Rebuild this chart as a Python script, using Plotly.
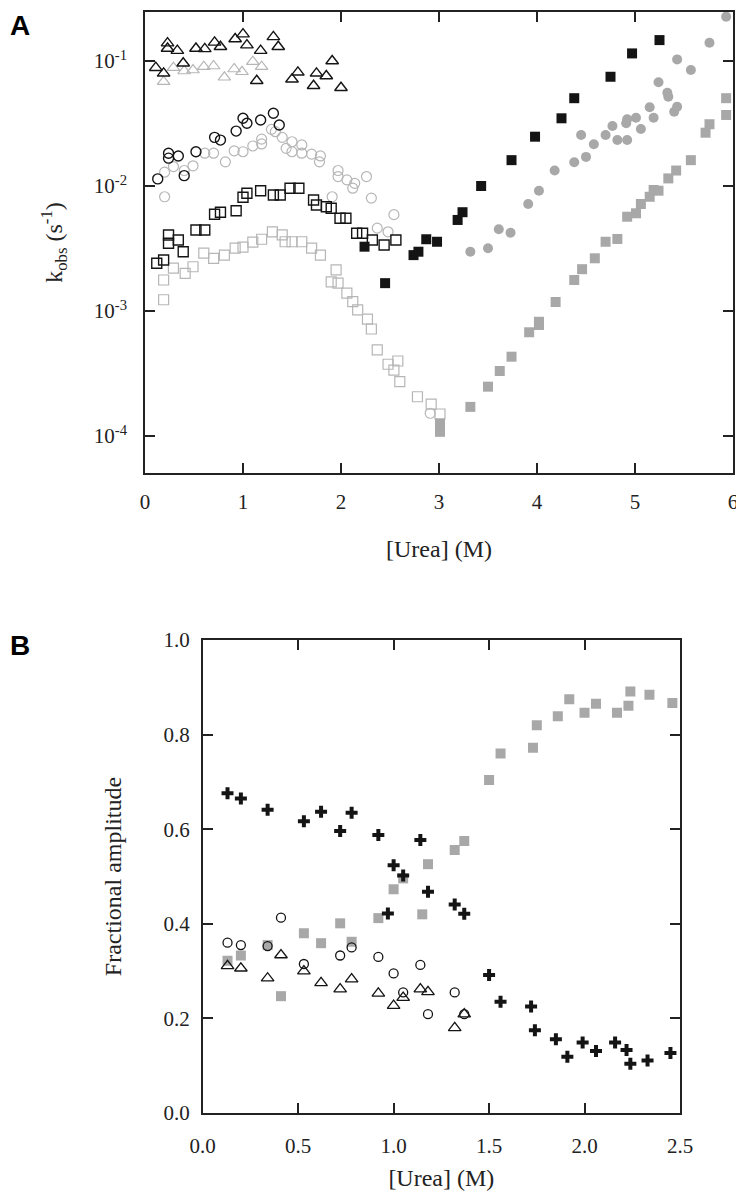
import plotly.graph_objects as go

# ---------------- Panel A data: k_obs vs [Urea] ----------------
a_tri_dark_x = [0.11, 0.19, 0.23, 0.23, 0.33, 0.39, 0.52, 0.61, 0.71, 0.77, 0.92, 1.00, 1.04, 1.14, 1.18, 1.31, 1.36, 1.50, 1.56, 1.72, 1.75, 1.85, 1.91, 2.00]
a_tri_dark_y = [0.0884, 0.0797, 0.139, 0.126, 0.121, 0.0959, 0.126, 0.125, 0.141, 0.130, 0.150, 0.164, 0.134, 0.0695, 0.121, 0.156, 0.130, 0.0714, 0.0812, 0.0634, 0.0797, 0.0759, 0.100, 0.0611]

a_tri_light_x = [0.19, 0.29, 0.40, 0.49, 0.60, 0.70, 0.81, 0.91, 0.99, 1.10, 1.19]
a_tri_light_y = [0.0683, 0.0884, 0.0832, 0.0847, 0.090, 0.0912, 0.0741, 0.0863, 0.082, 0.0987, 0.090]

a_circ_dark_x = [0.13, 0.24, 0.24, 0.34, 0.40, 0.52, 0.71, 0.77, 0.93, 1.00, 1.04, 1.18, 1.31, 1.37]
a_circ_dark_y = [0.0114, 0.0183, 0.0167, 0.0174, 0.0121, 0.0188, 0.0245, 0.0233, 0.0275, 0.0348, 0.0318, 0.0337, 0.0382, 0.0308]

a_circ_light_x = [0.20, 0.20, 0.29, 0.40, 0.49, 0.61, 0.70, 0.82, 0.91, 1.00, 1.10, 1.19, 1.19, 1.29, 1.33, 1.40, 1.44, 1.50, 1.50, 1.60, 1.60, 1.70, 1.79, 1.78, 1.91, 1.97, 1.97, 2.06, 2.14, 2.12, 2.26, 2.31, 2.37, 2.48, 2.54, 2.91]
a_circ_light_y = [0.0082, 0.0129, 0.0143, 0.0133, 0.0145, 0.0183, 0.0183, 0.0156, 0.0191, 0.0188, 0.0209, 0.0217, 0.0237, 0.0284, 0.0272, 0.0245, 0.0200, 0.0226, 0.0188, 0.0213, 0.0183, 0.0180, 0.0174, 0.0156, 0.0082, 0.0133, 0.0119, 0.0112, 0.0105, 0.0096, 0.0119, 0.0080, 0.0046, 0.0043, 0.0059, 0.000152]

a_sq_dark_x = [0.12, 0.19, 0.24, 0.24, 0.34, 0.39, 0.52, 0.61, 0.71, 0.77, 0.93, 1.00, 1.04, 1.18, 1.31, 1.38, 1.48, 1.57, 1.72, 1.75, 1.85, 1.90, 1.99, 2.05, 2.16, 2.22, 2.32, 2.44, 2.56]
a_sq_dark_y = [0.00241, 0.00256, 0.00406, 0.00348, 0.00370, 0.00298, 0.00445, 0.00445, 0.00594, 0.00617, 0.00634, 0.00813, 0.00875, 0.00917, 0.00847, 0.00847, 0.00960, 0.00960, 0.00773, 0.00705, 0.00683, 0.00663, 0.00552, 0.00552, 0.00419, 0.00419, 0.00370, 0.00337, 0.00370]

a_sq_light_x = [0.19, 0.19, 0.29, 0.41, 0.49, 0.60, 0.70, 0.81, 0.92, 1.00, 1.10, 1.19, 1.30, 1.40, 1.43, 1.50, 1.60, 1.70, 1.79, 1.95, 1.90, 1.97, 2.06, 2.12, 2.17, 2.27, 2.31, 2.37, 2.48, 2.58, 2.54, 2.60, 2.78, 2.92, 3.01]
a_sq_light_y = [0.00123, 0.00177, 0.00220, 0.00200, 0.00226, 0.00290, 0.00264, 0.00280, 0.00318, 0.00324, 0.00355, 0.00375, 0.00430, 0.00406, 0.00358, 0.00358, 0.00358, 0.00318, 0.00280, 0.00213, 0.00171, 0.00167, 0.00139, 0.00119, 0.00102, 0.00086, 0.000718, 0.000488, 0.000375, 0.000398, 0.000337, 0.000272, 0.000206, 0.000180, 0.000150]

a_sqf_dark_x = [2.24, 2.45, 2.74, 2.79, 2.87, 2.98, 3.19, 3.24, 3.43, 3.74, 3.98, 4.25, 4.38, 4.75, 4.97, 5.25]
a_sqf_dark_y = [0.00327, 0.00167, 0.00280, 0.00298, 0.00375, 0.00358, 0.00535, 0.00617, 0.0100, 0.0161, 0.0248, 0.0348, 0.0504, 0.0748, 0.115, 0.147]

a_circf_gray_x = [3.32, 3.50, 3.61, 3.73, 3.91, 4.02, 4.18, 4.38, 4.50, 4.45, 4.58, 4.70, 4.77, 4.82, 4.92, 4.91, 4.92, 5.01, 5.06, 5.15, 5.19, 5.24, 5.33, 5.34, 5.40, 5.43, 5.43, 5.57, 5.76, 5.93, 5.93]
a_circf_gray_y = [0.00298, 0.00318, 0.00451, 0.00423, 0.00718, 0.00917, 0.0133, 0.0155, 0.0171, 0.0256, 0.0216, 0.0256, 0.0302, 0.0233, 0.0233, 0.0318, 0.0342, 0.0352, 0.0286, 0.0427, 0.0352, 0.0676, 0.0557, 0.0518, 0.0393, 0.0431, 0.103, 0.0847, 0.140, 0.264, 0.226]

a_sqf_gray_x = [3.01, 3.01, 3.32, 3.50, 3.62, 3.74, 3.92, 4.02, 4.02, 4.19, 4.38, 4.46, 4.59, 4.70, 4.82, 4.92, 5.01, 5.06, 5.15, 5.19, 5.24, 5.34, 5.42, 5.57, 5.72, 5.76, 5.93, 5.93]
a_sqf_gray_y = [0.000126, 0.000108, 0.000171, 0.000248, 0.000331, 0.000431, 0.000676, 0.000773, 0.000820, 0.00118, 0.00177, 0.00216, 0.00264, 0.00358, 0.00377, 0.00568, 0.00605, 0.00718, 0.00820, 0.00929, 0.00917, 0.0115, 0.0133, 0.0161, 0.0267, 0.0312, 0.0504, 0.0370]

a_xticks = [0, 1, 2, 3, 4, 5, 6]
a_yticks = [1e-4, 1e-3, 1e-2, 1e-1]
a_yticklabels = ["10<sup>-4</sup>", "10<sup>-3</sup>", "10<sup>-2</sup>", "10<sup>-1</sup>"]

# ---------------- Panel B data: fractional amplitude ----------------
b_cross_x = [0.13, 0.20, 0.34, 0.53, 0.62, 0.72, 0.78, 0.92, 1.14, 1.00, 1.05, 1.18, 0.97, 1.32, 1.37, 1.50, 1.56, 1.72, 1.74, 1.85, 1.91, 1.99, 2.06, 2.16, 2.22, 2.24, 2.33, 2.45]
b_cross_y = [0.676, 0.665, 0.641, 0.617, 0.637, 0.596, 0.635, 0.588, 0.577, 0.524, 0.502, 0.468, 0.422, 0.441, 0.421, 0.292, 0.235, 0.225, 0.175, 0.156, 0.119, 0.149, 0.131, 0.149, 0.133, 0.104, 0.111, 0.127]

b_sq_x = [0.13, 0.20, 0.34, 0.41, 0.53, 0.62, 0.72, 0.78, 0.92, 1.00, 1.05, 1.15, 1.18, 1.32, 1.37, 1.50, 1.56, 1.73, 1.75, 1.86, 1.92, 2.00, 2.06, 2.17, 2.23, 2.24, 2.34, 2.46]
b_sq_y = [0.322, 0.333, 0.355, 0.247, 0.380, 0.359, 0.401, 0.362, 0.412, 0.473, 0.496, 0.420, 0.526, 0.556, 0.575, 0.704, 0.760, 0.772, 0.820, 0.839, 0.875, 0.846, 0.865, 0.846, 0.861, 0.891, 0.884, 0.867]

b_circ_x = [0.13, 0.20, 0.34, 0.41, 0.53, 0.72, 0.78, 0.92, 1.00, 1.05, 1.14, 1.18, 1.32, 1.37]
b_circ_y = [0.360, 0.355, 0.353, 0.413, 0.315, 0.333, 0.350, 0.330, 0.295, 0.255, 0.313, 0.209, 0.255, 0.209]

b_tri_x = [0.13, 0.20, 0.34, 0.41, 0.53, 0.62, 0.72, 0.78, 0.92, 1.00, 1.05, 1.14, 1.18, 1.32, 1.37]
b_tri_y = [0.311, 0.306, 0.285, 0.334, 0.300, 0.275, 0.262, 0.283, 0.253, 0.227, 0.244, 0.262, 0.256, 0.180, 0.209]

b_xticks = [0.0, 0.5, 1.0, 1.5, 2.0, 2.5]
b_yticks = [0.0, 0.2, 0.4, 0.6, 0.8, 1.0]

# The page body has an 8 px default margin on every side, so the figure is
# sized to fit inside the 744x1199 window, and positions are given in window
# pixels minus that offset.
OFF = 8
W, H = 744 - OFF, 1199 - 2 * OFF

def dx(px):
    return (px - OFF) / W

def dy(py):
    return 1 - (py - OFF) / H

DARK = "#141414"
LIGHT = "#b6b6b6"
GRAYF = "#a8a8a8"
SERIF = "Liberation Serif"
TICKSIZE = 21
TITLESIZE = 24

fig = go.Figure()

def add(x, y, symbol, color, size, xa, ya, name, filled=False, lw=1.4):
    marker = dict(symbol=symbol, size=size, color=color)
    if not filled:
        marker["line"] = dict(color=color, width=lw)
    else:
        marker["line"] = dict(width=0)
    fig.add_trace(go.Scatter(x=x, y=y, mode="markers", marker=marker,
                             xaxis=xa, yaxis=ya, name=name, showlegend=False))

# Panel A traces
add(a_sq_light_x, a_sq_light_y, "square-open", LIGHT, 10, "x", "y", "light open squares", lw=1.2)
add(a_circ_light_x, a_circ_light_y, "circle-open", LIGHT, 10, "x", "y", "light open circles", lw=1.2)
add(a_tri_light_x, a_tri_light_y, "triangle-up-open", LIGHT, 11, "x", "y", "light open triangles", lw=1.2)
add(a_sqf_gray_x, a_sqf_gray_y, "square", GRAYF, 10, "x", "y", "gray filled squares", filled=True)
add(a_circf_gray_x, a_circf_gray_y, "circle", GRAYF, 10, "x", "y", "gray filled circles", filled=True)
add(a_sq_dark_x, a_sq_dark_y, "square-open", DARK, 10, "x", "y", "dark open squares")
add(a_circ_dark_x, a_circ_dark_y, "circle-open", DARK, 10, "x", "y", "dark open circles")
add(a_tri_dark_x, a_tri_dark_y, "triangle-up-open", DARK, 11, "x", "y", "dark open triangles")
add(a_sqf_dark_x, a_sqf_dark_y, "square", DARK, 10, "x", "y", "dark filled squares", filled=True)

# Panel B traces
add(b_sq_x, b_sq_y, "square", GRAYF, 10, "x2", "y2", "gray squares", filled=True)
add(b_circ_x, b_circ_y, "circle-open", DARK, 9, "x2", "y2", "open circles", lw=1.3)
add(b_tri_x, b_tri_y, "triangle-up-open", DARK, 11, "x2", "y2", "open triangles", lw=1.3)
add(b_cross_x, b_cross_y, "cross", DARK, 10, "x2", "y2", "crosses", filled=True)

# empty trace so the top/right frame axes of panel A are instantiated
fig.add_trace(go.Scatter(x=[], y=[], mode="markers", xaxis="x3", yaxis="y3",
                         showlegend=False, hoverinfo="skip"))

axis_common = dict(showline=True, linecolor="#222", linewidth=1.6,
                   ticks="inside", ticklen=10, tickwidth=1.6, tickcolor="#222",
                   showgrid=False, zeroline=False, automargin=False,
                   tickfont=dict(family=SERIF, size=TICKSIZE, color="#222"))
title_font = dict(family=SERIF, size=TITLESIZE, color="#222")

A_TOP = 12     # window px of panel A's top frame line
A_RIGHT = 733  # window px of panel A's right frame line
A_YRANGE = [-4.296, -1 + (61 - A_TOP) / 125]

fig.update_layout(
    width=W, height=H,
    margin=dict(l=0, r=0, t=0, b=0, autoexpand=False),
    paper_bgcolor="white", plot_bgcolor="white",
    xaxis=dict(axis_common, domain=[dx(145), dx(A_RIGHT)], range=[0, 6],
               tickvals=a_xticks, ticklabelstandoff=9,
               title=dict(text="[Urea] (M)", font=title_font, standoff=27),
               anchor="y"),
    yaxis=dict(axis_common, domain=[dy(473), dy(A_TOP)], type="log", range=A_YRANGE,
               tickvals=a_yticks, ticktext=a_yticklabels, ticklabelstandoff=12,
               title=dict(text="k<sub>obs</sub> (s<sup>-1</sup>)", font=title_font, standoff=24),
               anchor="x"),
    xaxis3=dict(axis_common, domain=[dx(145), dx(A_RIGHT)], range=[0, 6],
                overlaying="x", side="top", anchor="y3",
                tickvals=a_xticks, showticklabels=False),
    yaxis3=dict(axis_common, domain=[dy(473), dy(A_TOP)], type="log", range=A_YRANGE,
                overlaying="y", side="right", anchor="x3",
                tickvals=a_yticks, showticklabels=False),
    xaxis2=dict(axis_common, mirror="ticks", domain=[dx(202.7), dx(680)], range=[0, 2.5],
                tickvals=b_xticks, tickformat=".1f", ticklabelstandoff=13,
                title=dict(text="[Urea] (M)", font=title_font, standoff=32),
                anchor="y2"),
    yaxis2=dict(axis_common, mirror="ticks", domain=[dy(1113), dy(640)], range=[0, 1.0],
                tickvals=b_yticks, tickformat=".1f", ticklabelstandoff=7,
                title=dict(text="Fractional amplitude", font=title_font, standoff=35),
                anchor="x2"),
    annotations=[
        dict(text="<b>A</b>", x=0, y=1, xref="paper", yref="paper", xanchor="left", yanchor="top",
             showarrow=False, font=dict(family="Liberation Sans", size=28, color="black")),
        dict(text="<b>B</b>", x=0, y=dy(628), xref="paper", yref="paper", xanchor="left", yanchor="top",
             showarrow=False, font=dict(family="Liberation Sans", size=28, color="black")),
    ],
)

fig.write_html("out.html")
